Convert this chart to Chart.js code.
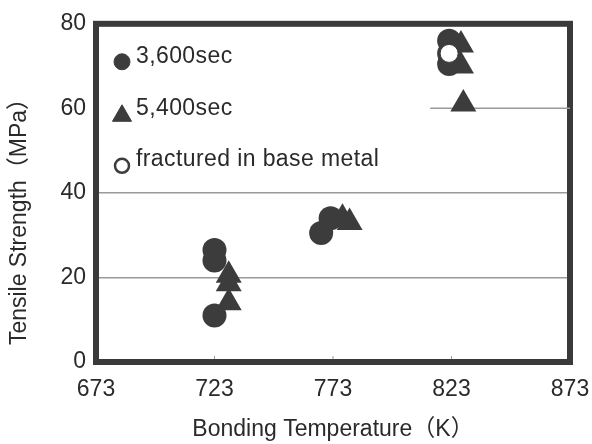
<!DOCTYPE html>
<html>
<head>
<meta charset="utf-8">
<script src="https://cdn.jsdelivr.net/npm/chart.js@4.4.0/dist/chart.umd.min.js"></script>
<style>
  html, body { margin: 0; padding: 0; background: #fff; }
  #wrap { width: 592px; height: 444px; }
</style>
</head>
<body>
<div id="wrap"><canvas id="tensileChart" width="592" height="444"></canvas></div>
<script>
// Bonding temperature (K) vs tensile strength (MPa)
const temp3600 = [723, 723, 723, 768, 772, 822, 822, 822];
const ts3600 = [26.5, 24, 11, 30.5, 34, 76, 70.5, 73];

const temp5400 = [729, 729, 729, 777, 780, 827, 827, 828];
const ts5400 = [20.5, 18.5, 14, 34, 33, 75, 70, 61];

const tempBase = [822];
const tsBase = [73];

// partial reference line at 60 MPa on the right side
const lineTemps = [814, 873];
const lineValues = [60, 60];

const xTicks = [673, 723, 773, 823, 873];
const yTicks = [0, 20, 40, 60, 80];
const yGridShown = [20, 40];

const legendLabels = ['3,600sec', '5,400sec', 'fractured in base metal'];
const xTitle = 'Bonding Temperature\uFF08K\uFF09';
const yTitle = 'Tensile Strength\uFF08MPa\uFF09';

const FONT = "'Liberation Sans', Arial, 'Noto Sans CJK JP', sans-serif";
const INK = '#3c3c3c';
const TEXT = '#2a2a2a';

function toPoints(xs, ys) {
    return xs.map((x, i) => ({ x: x, y: ys[i] }));
}

// thick frame + small inner ticks on the bottom axis
const framePlugin = {
    id: 'frame',
    beforeDatasetsDraw(chart) {
        const { ctx, chartArea: a, scales } = chart;
        ctx.save();
        ctx.strokeStyle = '#9a9a9a';
        ctx.lineWidth = 1;
        xTicks.slice(1, -1).forEach(v => {
            const px = scales.x.getPixelForValue(v);
            ctx.beginPath();
            ctx.moveTo(px, a.bottom);
            ctx.lineTo(px, a.bottom - 6);
            ctx.stroke();
        });
        ctx.strokeStyle = '#3a3a3a';
        ctx.lineWidth = 6;
        ctx.strokeRect(a.left, a.top, a.right - a.left, a.bottom - a.top);
        ctx.restore();
    }
};

// legend drawn inside the plot, top left
const legendPlugin = {
    id: 'innerLegend',
    afterDatasetsDraw(chart) {
        const { ctx, chartArea: a } = chart;
        const styles = [
            { pointStyle: 'circle', radius: 8, fill: INK, stroke: INK, width: 1 },
            { pointStyle: 'triangle', radius: 11, fill: INK, stroke: INK, width: 1 },
            { pointStyle: 'circle', radius: 7, fill: '#fff', stroke: INK, width: 2.5 }
        ];
        const markerY = [38, 92, 142];
        const textY = [33, 85, 136];
        ctx.save();
        legendLabels.forEach((label, i) => {
            const s = styles[i];
            ctx.fillStyle = s.fill;
            ctx.strokeStyle = s.stroke;
            ctx.lineWidth = s.width;
            Chart.helpers.drawPoint(ctx, { pointStyle: s.pointStyle, radius: s.radius, rotation: 0, borderWidth: s.width },
                a.left + 26, a.top + markerY[i]);
            ctx.fillStyle = TEXT;
            ctx.font = '23px ' + FONT;
            ctx.letterSpacing = '0.4px';
            ctx.textAlign = 'left';
            ctx.textBaseline = 'middle';
            ctx.fillText(label, a.left + 40, a.top + textY[i]);
        });
        ctx.restore();
    }
};

// axis titles placed like in the scan
const titlePlugin = {
    id: 'axisTitles',
    afterDraw(chart) {
        const { ctx, chartArea: a } = chart;
        ctx.save();
        ctx.fillStyle = TEXT;
        ctx.font = '23px ' + FONT;
        ctx.textAlign = 'center';
        ctx.textBaseline = 'middle';
        ctx.fillText(xTitle, (a.left + a.right) / 2, 430);
        ctx.translate(20, 216);
        ctx.rotate(-Math.PI / 2);
        ctx.fillText(yTitle, 0, 0);
        ctx.restore();
    }
};

const chartCanvas = document.getElementById('tensileChart');

new Chart(chartCanvas.getContext('2d'), {
    type: 'scatter',
    data: {
        datasets: [
            {
                label: legendLabels[0],
                data: toPoints(temp3600, ts3600),
                pointStyle: 'circle',
                pointRadius: 12,
                backgroundColor: INK,
                borderColor: INK,
                borderWidth: 0,
                order: 2
            },
            {
                label: legendLabels[1],
                data: toPoints(temp5400, ts5400),
                pointStyle: 'triangle',
                pointRadius: 15,
                backgroundColor: INK,
                borderColor: INK,
                borderWidth: 0,
                order: 1
            },
            {
                label: legendLabels[2],
                data: toPoints(tempBase, tsBase),
                pointStyle: 'circle',
                pointRadius: 9,
                backgroundColor: '#ffffff',
                borderColor: INK,
                borderWidth: 1,
                order: 0
            },
            {
                type: 'line',
                label: 'ref',
                data: toPoints(lineTemps, lineValues),
                borderColor: '#9a9a9a',
                borderWidth: 1.5,
                pointRadius: 0,
                order: 5
            }
        ]
    },
    options: {
        responsive: false,
        animation: false,
        devicePixelRatio: 1,
        layout: { padding: { top: 22, right: 22, left: 0, bottom: 0 } },
        plugins: {
            legend: { display: false },
            tooltip: { enabled: false }
        },
        scales: {
            x: {
                type: 'linear',
                min: xTicks[0],
                max: xTicks[xTicks.length - 1],
                afterBuildTicks: scale => { scale.ticks = xTicks.map(v => ({ value: v })); },
                afterFit: scale => {
                    scale.height = 82;
                    scale.paddingLeft = 0;
                    scale.paddingRight = 0;
                },
                grid: { display: false, drawTicks: false },
                border: { display: false },
                ticks: {
                    padding: 14,
                    color: TEXT,
                    font: { family: FONT, size: 23 }
                }
            },
            y: {
                min: yTicks[0],
                max: yTicks[yTicks.length - 1],
                afterBuildTicks: scale => { scale.ticks = yTicks.map(v => ({ value: v })); },
                afterFit: scale => { scale.width = 96; },
                grid: {
                    drawTicks: false,
                    lineWidth: 1.5,
                    color: c => yGridShown.includes(c.tick.value) ? '#9a9a9a' : 'rgba(0,0,0,0)'
                },
                border: { display: false },
                ticks: {
                    padding: 10,
                    color: TEXT,
                    font: { family: FONT, size: 23 }
                }
            }
        }
    },
    plugins: [framePlugin, legendPlugin, titlePlugin]
});
</script>
</body>
</html>
